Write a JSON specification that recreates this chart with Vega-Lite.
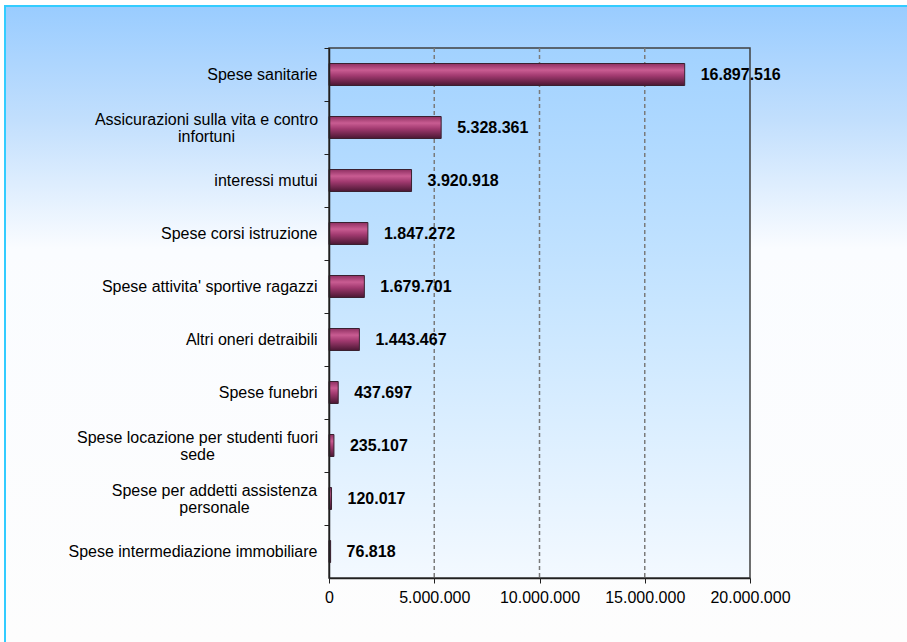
{
  "$schema": "https://vega.github.io/schema/vega-lite/v6.json",
  "autosize": "none",
  "width": 905,
  "height": 639,
  "padding": {"left": 5, "top": 6, "right": -3, "bottom": -3},
  "background": "#FFFFFF",
  "data": {
    "values": [
      {"voce": "Spese sanitarie", "importo": 16897516},
      {"voce": "Assicurazioni sulla vita e contro infortuni", "importo": 5328361},
      {"voce": "interessi mutui", "importo": 3920918},
      {"voce": "Spese corsi istruzione", "importo": 1847272},
      {"voce": "Spese attivita' sportive ragazzi", "importo": 1679701},
      {"voce": "Altri oneri detraibili", "importo": 1443467},
      {"voce": "Spese funebri", "importo": 437697},
      {"voce": "Spese locazione per studenti fuori sede", "importo": 235107},
      {"voce": "Spese per addetti assistenza personale", "importo": 120017},
      {"voce": "Spese intermediazione immobiliare", "importo": 76818}
    ]
  },
  "resolve": {"scale": {"x": "independent", "y": "independent"}},
  "layer": [
    {
      "transform": [{"aggregate": [{"op": "count", "as": "n"}]}],
      "encoding": {
        "x": {
          "datum": 0,
          "type": "quantitative",
          "scale": {"domain": [0, 20000000], "range": [324, 745], "nice": false},
          "axis": null
        },
        "y": {
          "datum": 0,
          "type": "quantitative",
          "scale": {"domain": [0, 1], "range": [42, 572], "nice": false, "zero": false},
          "axis": null
        },
        "y2": {"datum": 1}
      },
      "layer": [
        {
          "mark": {
            "type": "rect",
            "stroke": "#404040",
            "strokeWidth": 1.5,
            "color": {
              "gradient": "linear",
              "x1": 0, "y1": 0, "x2": 0, "y2": 1,
              "stops": [
                {"offset": 0, "color": "#A2D2FF"},
                {"offset": 0.5, "color": "#C9E6FF"},
                {"offset": 1, "color": "#F3F9FF"}
              ]
            }
          },
          "encoding": {"x2": {"datum": 20000000}}
        },
        {
          "mark": {"type": "rule", "color": "#7A7A7A", "strokeDash": [4, 3], "strokeWidth": 1.5},
          "encoding": {"x": {"datum": 5000000, "type": "quantitative", "axis": null}}
        },
        {
          "mark": {"type": "rule", "color": "#7A7A7A", "strokeDash": [4, 3], "strokeWidth": 1.5},
          "encoding": {"x": {"datum": 10000000, "type": "quantitative", "axis": null}}
        },
        {
          "mark": {"type": "rule", "color": "#7A7A7A", "strokeDash": [4, 3], "strokeWidth": 1.5},
          "encoding": {"x": {"datum": 15000000, "type": "quantitative", "axis": null}}
        }
      ]
    },
    {
      "encoding": {
        "y": {
          "field": "voce",
          "type": "nominal",
          "sort": "-x",
          "title": null,
          "scale": {"range": [42, 572], "paddingInner": 0, "paddingOuter": 0},
          "axis": {
            "orient": "left",
            "offset": -324,
            "zindex": 1,
            "bandPosition": 0,
            "tickSize": 5,
            "tickColor": "#202020",
            "domainColor": "#202020",
            "domainWidth": 1.5,
            "labelFont": "Liberation Sans",
            "labelFontSize": 16,
            "labelColor": "#000000",
            "labelLimit": 400,
            "labelLineHeight": 17,
            "labelExpr": "datum.value == 'Assicurazioni sulla vita e contro infortuni' ? ['Assicurazioni sulla vita e contro', 'infortuni'] : datum.value == 'Spese locazione per studenti fuori sede' ? ['Spese locazione per studenti fuori', 'sede'] : datum.value == 'Spese per addetti assistenza personale' ? ['Spese per addetti assistenza', 'personale'] : datum.value",
            "labelAlign": {
              "condition": {
                "test": "indexof(['Assicurazioni sulla vita e contro infortuni', 'Spese locazione per studenti fuori sede', 'Spese per addetti assistenza personale'], datum.value) >= 0",
                "value": "center"
              },
              "value": "right"
            },
            "labelOffset": {
              "condition": {
                "test": "indexof(['Assicurazioni sulla vita e contro infortuni', 'Spese locazione per studenti fuori sede', 'Spese per addetti assistenza personale'], datum.value) >= 0",
                "value": -8
              },
              "value": 0
            },
            "labelPadding": {
              "condition": [
                {"test": "datum.value == 'Assicurazioni sulla vita e contro infortuni'", "value": 118},
                {"test": "datum.value == 'Spese locazione per studenti fuori sede'", "value": 127},
                {"test": "datum.value == 'Spese per addetti assistenza personale'", "value": 110}
              ],
              "value": 7
            },
            "labelBaseline": "middle",
            "grid": false
          }
        },
        "x": {
          "field": "importo",
          "type": "quantitative",
          "title": null,
          "scale": {"domain": [0, 20000000], "range": [324, 745], "nice": false},
          "axis": {
            "orient": "bottom",
            "offset": -67,
            "zindex": 1,
            "values": [0, 5000000, 10000000, 15000000, 20000000],
            "format": ",.0f",
            "tickSize": 5,
            "tickColor": "#202020",
            "domainColor": "#202020",
            "domainWidth": 1.5,
            "labelFont": "Liberation Sans",
            "labelFontSize": 16,
            "labelColor": "#000000",
            "labelPadding": 6,
            "labelFlush": false,
            "grid": false
          }
        }
      },
      "layer": [
        {
          "mark": {
            "type": "bar",
            "size": 22,
            "stroke": "#3A2030",
            "strokeWidth": 1,
            "color": {
              "gradient": "linear",
              "x1": 0, "y1": 0, "x2": 0, "y2": 1,
              "stops": [
                {"offset": 0, "color": "#8E2F61"},
                {"offset": 0.3, "color": "#C95C92"},
                {"offset": 0.55, "color": "#A23A70"},
                {"offset": 1, "color": "#4A1733"}
              ]
            }
          }
        },
        {
          "mark": {
            "type": "text",
            "align": "left",
            "baseline": "middle",
            "dx": 16,
            "font": "Liberation Sans",
            "fontSize": 16,
            "fontWeight": "bold",
            "color": "#000000"
          },
          "encoding": {
            "text": {"field": "importo", "type": "quantitative", "format": ",.0f"}
          }
        }
      ]
    }
  ],
  "config": {
    "locale": {
      "number": {"decimal": ",", "thousands": ".", "grouping": [3], "currency": ["€", ""]}
    },
    "view": {
      "stroke": "#33CCFF",
      "strokeWidth": 2,
      "fill": {
        "gradient": "linear",
        "x1": 0, "y1": 0, "x2": 0, "y2": 1,
        "stops": [
          {"offset": 0, "color": "#99CCFF"},
          {"offset": 0.18, "color": "#C2DFFD"},
          {"offset": 0.38, "color": "#FAFCFF"},
          {"offset": 1, "color": "#FDFDFD"}
        ]
      }
    }
  }
}
